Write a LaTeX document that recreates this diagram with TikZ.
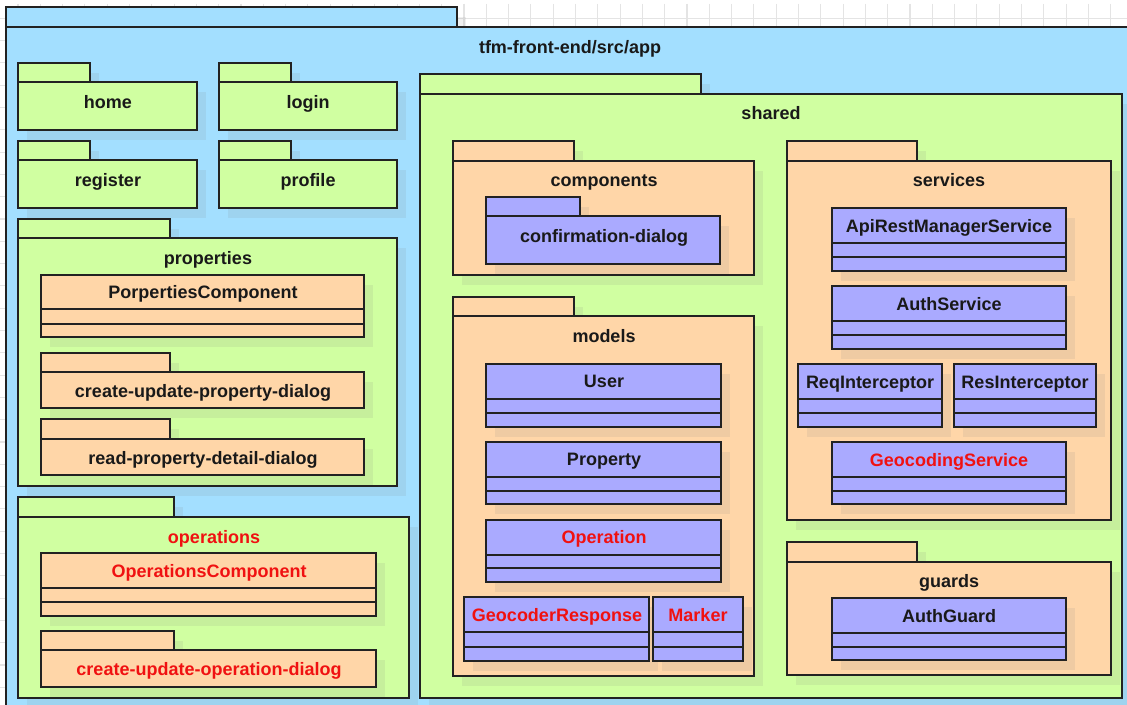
\documentclass[tikz,border=0pt]{standalone}
\usepackage{fontspec}
\setmainfont{Liberation Sans}
\begin{document}
\begin{tikzpicture}[x=0.75pt,y=-0.75pt]
\definecolor{pkgblue}{RGB}{163,223,255}
\definecolor{pkggreen}{RGB}{208,255,161}
\definecolor{pkgpeach}{RGB}{255,214,168}
\definecolor{clsviolet}{RGB}{170,170,255}
\definecolor{ink}{RGB}{25,25,25}
\definecolor{edgec}{RGB}{34,34,34}
\definecolor{alert}{RGB}{240,17,17}
\definecolor{gridc}{RGB}{228,228,228}
\tikzset{
  outline/.style={draw=edgec, line width=1pt},
  shadowfill/.style={fill=black!50, fill opacity=0.12},
  lbl/.style={font=\bfseries\fontsize{13.5}{16}\selectfont, text=ink,
    inner sep=0pt, text height=9.7pt, text depth=0pt, anchor=center},
  redlbl/.style={lbl, text=alert},
  gridline/.style={draw=gridc, line width=0.8pt}
}
% package: fill, left, tab top, tab right, body top, right, bottom
\newcommand{\pkg}[7]{%
  \fill[shadowfill] ({#4},{#3+10}) rectangle ({#4+9},{#5});
  \fill[shadowfill] ({#2+9},{#5+10}) rectangle ({#6+9},{#7+10});
  \draw[outline, fill=#1] (#2,#3) rectangle (#4,#5);
  \draw[outline, fill=#1] (#2,#5) rectangle (#6,#7);
}
% class: fill, left, top, right, first divider, second divider, bottom
\newcommand{\cls}[7]{%
  \fill[shadowfill] ({#2+9},{#3+10}) rectangle ({#4+9},{#7+10});
  \draw[outline, fill=#1] (#2,#3) rectangle (#4,#7);
  \draw[outline] (#2,#5) -- (#4,#5) (#2,#6) -- (#4,#6);
}

\clip (0,0) rectangle (1127,705);
\fill[white] (0,0) rectangle (1127,705);

% drawing-canvas grid
\foreach \i in {-21,...,30}
  \draw[gridline] ({464+22.3*\i},4) -- ({464+22.3*\i},705);
\foreach \j in {0,...,31}
  \draw[gridline] (0,{18.3+22.3*\j}) -- (1127,{18.3+22.3*\j});

% root package
\pkg{pkgblue}{6}{7}{457}{27}{1145}{725}
\node[lbl] (app) at (570,47) {tfm-front-end/src/app};

% simple feature packages
\pkg{pkggreen}{18}{63}{90}{82}{197}{130}
\node[lbl] (home) at (108,102) {home};
\pkg{pkggreen}{219}{63}{291}{82}{397}{130}
\node[lbl] (login) at (308,102) {login};
\pkg{pkggreen}{18}{141}{90}{160}{197}{208}
\node[lbl] (register) at (108,180) {register};
\pkg{pkggreen}{219}{141}{291}{160}{397}{208}
\node[lbl] (profile) at (308,180) {profile};

% properties
\pkg{pkggreen}{18}{219}{170}{238}{397}{486}
\node[lbl] (properties) at (208,258) {properties};
\cls{pkgpeach}{41}{275}{364}{309}{324}{337}
\node[lbl] (propcomp) at (203,292) {PorpertiesComponent};
\pkg{pkgpeach}{41}{353}{170}{372}{364}{408}
\node[lbl] (cupd) at (203,391) {create-update-property-dialog};
\pkg{pkgpeach}{41}{419}{170}{439}{364}{475}
\node[lbl] (rpdd) at (203,458) {read-property-detail-dialog};

% operations
\pkg{pkggreen}{18}{497}{174}{517}{409}{698}
\node[redlbl] (operations) at (214,537) {operations};
\cls{pkgpeach}{41}{553}{376}{588}{602}{616}
\node[redlbl] (opcomp) at (209,571) {OperationsComponent};
\pkg{pkgpeach}{41}{631}{174}{650}{376}{687}
\node[redlbl] (cuod) at (209,669) {create-update-operation-dialog};

% shared
\pkg{pkggreen}{420}{74}{701}{94}{1122}{698}
\node[lbl] (shared) at (771,113) {shared};

% shared/components
\pkg{pkgpeach}{453}{141}{574}{161}{754}{275}
\node[lbl] (components) at (604,180) {components};
\pkg{clsviolet}{486}{197}{580}{216}{720}{264}
\node[lbl] (confdlg) at (604,236) {confirmation-dialog};

% shared/models
\pkg{pkgpeach}{453}{297}{574}{316}{754}{676}
\node[lbl] (models) at (604,336) {models};
\cls{clsviolet}{486}{364}{721}{399}{413}{427}
\node[lbl] (user) at (604,381) {User};
\cls{clsviolet}{486}{442}{721}{477}{491}{504}
\node[lbl] (property) at (604,459) {Property};
\cls{clsviolet}{486}{520}{721}{555}{568}{582}
\node[redlbl] (operation) at (604,537) {Operation};
\cls{clsviolet}{464}{597}{649}{632}{647}{661}
\node[redlbl] (georesp) at (557,615) {GeocoderResponse};
\cls{clsviolet}{653}{597}{743}{632}{647}{661}
\node[redlbl] (marker) at (698,615) {Marker};

% shared/services
\pkg{pkgpeach}{787}{141}{917}{161}{1111}{520}
\node[lbl] (services) at (949,180) {services};
\cls{clsviolet}{832}{208}{1066}{243}{257}{271}
\node[lbl] (apirest) at (949,226) {ApiRestManagerService};
\cls{clsviolet}{832}{286}{1066}{321}{335}{349}
\node[lbl] (auth) at (949,304) {AuthService};
\cls{clsviolet}{798}{364}{942}{399}{413}{427}
\node[lbl] (reqint) at (870,382) {ReqInterceptor};
\cls{clsviolet}{954}{364}{1096}{399}{413}{427}
\node[lbl] (resint) at (1025,382) {ResInterceptor};
\cls{clsviolet}{832}{442}{1066}{477}{491}{504}
\node[redlbl] (geocoding) at (949,460) {GeocodingService};

% shared/guards
\pkg{pkgpeach}{787}{542}{917}{562}{1111}{675}
\node[lbl] (guards) at (949,581) {guards};
\cls{clsviolet}{832}{598}{1066}{633}{647}{660}
\node[lbl] (authguard) at (949,616) {AuthGuard};
\end{tikzpicture}
\end{document}
